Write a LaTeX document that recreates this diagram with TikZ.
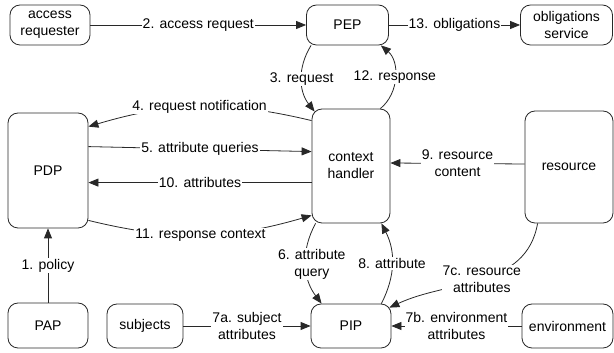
\documentclass[tikz,border=0pt]{standalone}
\usepackage{fontspec}
\setmainfont{Liberation Sans}
\usepackage{tikz}
\usetikzlibrary{arrows.meta, positioning, calc}

\definecolor{linegray}{RGB}{40,40,40}

\begin{document}
\begin{tikzpicture}[x=1pt, y=1pt,
  every node/.style={font=\fontsize{14}{17}\selectfont},
  box/.style={draw=linegray, line width=0.8pt, rounded corners=10pt, align=center, inner sep=2pt},
  lbl/.style={fill=white, inner sep=1pt, align=center},
  flow/.style={draw=linegray, line width=0.8pt, -{Triangle[length=10pt, width=8pt]}}]
  \useasboundingbox (0,0) rectangle (614,353);

  % Top row
  \node[box, minimum width=80pt, minimum height=40pt] (acc) at (50,328) {access\\requester};
  \node[box, minimum width=82pt, minimum height=40pt] (pep) at (347.5,328) {PEP};
  \node[box, minimum width=92pt, minimum height=40pt] (obl) at (566.5,328) {obligations\\service};

  % Middle row
  \node[box, minimum width=80pt, minimum height=115pt] (pdp) at (48,182.5) {PDP};
  \node[box, minimum width=78pt, minimum height=114pt] (ctx) at (351,187) {context\\handler};
  \node[box, minimum width=88pt, minimum height=112pt] (res) at (569,186) {resource};

  % Bottom row
  \node[box, minimum width=80pt, minimum height=45pt] (pap) at (48,27.5) {PAP};
  \node[box, minimum width=76pt, minimum height=44pt] (sub) at (145,27) {subjects};
  \node[box, minimum width=80pt, minimum height=44pt] (pip) at (351,27) {PIP};
  \node[box, minimum width=91pt, minimum height=44pt] (env) at (567.5,27) {environment};

  % Flows
  \draw[flow] (pap.north) -- node[lbl] {1. policy} (pdp.south);
  \draw[flow] (acc.east) -- node[lbl] {2. access request} (pep.west);
  \draw[flow] ([xshift=5pt]pep.south west) to[bend right=35]
    node[lbl] {3. request} ([shift={(3pt,-3pt)}]ctx.north west);
  \draw[flow] ([yshift=-12pt]ctx.north west) to[bend right=15]
    node[lbl] {4. request notification} ([yshift=-14pt]pdp.north east);
  \draw[flow] ([yshift=-34pt]pdp.north east) --
    node[lbl] {5. attribute queries} ([yshift=-43pt]ctx.north west);
  \draw[flow] ([xshift=4pt]ctx.south west) to[bend right=33]
    node[lbl, xshift=6pt] {6. attribute\\query} ([xshift=11pt]pip.north west);
  \draw[flow] (sub.east) -- node[lbl] {7a. subject\\attributes} (pip.west);
  \draw[flow] (env.west) -- node[lbl] {7b. environment\\attributes} (pip.east);
  \draw[flow] ([xshift=13pt]res.south west) to[out=260, in=25]
    node[lbl] {7c. resource\\attributes} ([shift={(-2pt,-4pt)}]pip.north east);
  \draw[flow] ([xshift=-10pt]pip.north east) to[bend right=27]
    node[lbl] {8. attribute} ([xshift=-9pt]ctx.south east);
  \draw[flow] ([yshift=3pt]res.west) --
    node[lbl] {9. resource\\content} ([yshift=3pt]ctx.east);
  \draw[flow] ([yshift=-74pt]ctx.north west) --
    node[lbl] {10. attributes} ([yshift=-70pt]pdp.north east);
  \draw[flow] ([yshift=8pt]pdp.south east) to[bend right=15]
    node[lbl] {11. response context} ([yshift=8pt]ctx.south west);
  \draw[flow] ([xshift=-10pt]ctx.north east) to[bend right=50]
    node[lbl] {12. response} ([xshift=-8pt]pep.south east);
  \draw[flow] (pep.east) -- node[lbl] {13. obligations} (obl.west);
\end{tikzpicture}
\end{document}
